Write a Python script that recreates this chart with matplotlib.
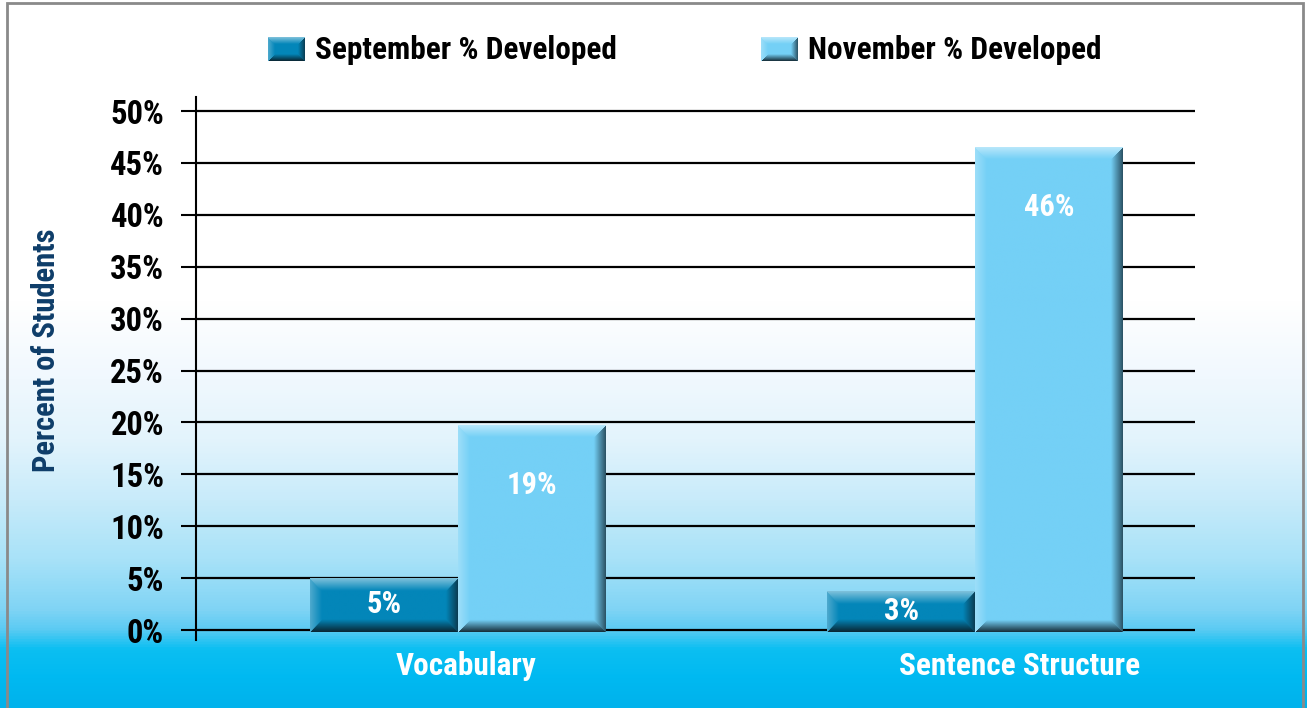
import numpy as np
import matplotlib
matplotlib.use("Agg")
import matplotlib.pyplot as plt
from matplotlib.colors import to_rgb, LinearSegmentedColormap
from matplotlib.patches import Rectangle

categories = ["Vocabulary", "Sentence Structure"]
september = [5.0, 3.7]
november = [19.7, 46.5]
series_names = ["September % Developed", "November % Developed"]
yticks = [0, 5, 10, 15, 20, 25, 30, 35, 40, 45, 50]

FONT = ["Roboto Condensed", "Open Sans Condensed", "DejaVu Sans"]
plt.rcParams["font.family"] = FONT
plt.rcParams["font.weight"] = "bold"

sep_color = "#0386b9"
nov_color = "#74d0f6"


def mix(c1, c2, t):
    return np.array(c1) * (1 - t) + np.array(c2) * t


def bevel_image(color, w, h, e):
    base = np.array(to_rgb(color))
    w, h = max(int(w), 2), max(int(h), 2)
    xs = np.arange(w) + 0.5
    ys = np.arange(h) + 0.5
    X, Y = np.meshgrid(xs, ys)
    d = np.stack([Y, X, w - X, h - Y])  # top, left, right, bottom
    edges = [mix(base, (1, 1, 1), 0.5), mix(base, (1, 1, 1), 0.3),
             mix(base, (0.05, 0.12, 0.16), 0.72), mix(base, (0.04, 0.1, 0.13), 0.9)]
    idx = np.argmin(d, axis=0)
    dmin = np.min(d, axis=0)
    t = np.clip(dmin / e, 0, 1)[..., None]
    img = np.empty((h, w, 3))
    for k in range(4):
        m = idx == k
        img[m] = (edges[k][None, :] * (1 - t[m]) + base[None, :] * t[m])
    return img


W, H = 1307, 708
fig = plt.figure(figsize=(W / 100, H / 100), dpi=100)

# background gradient
bg = fig.add_axes([0, 0, 1, 1], zorder=-5)
bg_cmap = LinearSegmentedColormap.from_list(
    "bg", [(0.0, "#00b2ec"), (0.04, "#00b9f1"), (0.082, "#0cbff2"),
           (0.11, "#5ccbf3"), (0.138, "#80d4f5"), (0.209, "#a8e2f8"),
           (0.294, "#c8ebfa"), (0.379, "#e3f4fc"), (0.463, "#f0f8fe"),
           (0.576, "#ffffff"), (1.0, "#ffffff")])
bg.imshow(np.linspace(0, 1, 512)[:, None], aspect="auto", cmap=bg_cmap,
          origin="lower", extent=[0, 1, 0, 1])
bg.set_xlim(0, 1)
bg.set_ylim(0, 1)
bg.axis("off")
bg.add_patch(Rectangle((7 / W, -2 / H), (W - 11) / W, (H - 1) / H, fill=False,
                       edgecolor="#8a8a8a", lw=2, transform=bg.transAxes))

ax = fig.add_axes([196 / W, 1 - 640 / H, (1195 - 196) / W, (640 - 97) / H])
ax.set_facecolor("none")
ax.set_xlim(-0.507, 1.425)
ax.set_ylim(-0.96, 51.35)

x = np.arange(len(categories))
bw = 0.286
bars_sep = ax.bar(x - bw / 2, september, bw, color=sep_color, zorder=3)
bars_nov = ax.bar(x + bw / 2, november, bw, color=nov_color, zorder=3)

ax.set_yticks(yticks)
ax.set_yticklabels([f"{v}%" for v in yticks], fontsize=23.5, fontweight="bold")
ax.tick_params(axis="y", length=11, width=1.5, direction="out", pad=12)
ax.set_xticks([])
ax.grid(axis="y", color="black", lw=1.6, zorder=1)
ax.set_axisbelow(True)
for s in ["top", "right", "bottom"]:
    ax.spines[s].set_visible(False)
ax.spines["left"].set_linewidth(1.5)

ax.set_ylabel("Percent of Students", fontsize=22, fontweight="bold",
              color="#0e3d69")
ax.yaxis.set_label_coords(-0.135, 0.534)

# bevel overlay for bars
fig.canvas.draw()
for bars, col in [(bars_sep, sep_color), (bars_nov, nov_color)]:
    for b in bars:
        x0, y0 = b.get_x(), b.get_y()
        x1, y1 = x0 + b.get_width(), y0 + b.get_height()
        p0 = ax.transData.transform((x0, y0))
        p1 = ax.transData.transform((x1, y1))
        img = bevel_image(col, p1[0] - p0[0], p1[1] - p0[1], 12)
        ax.imshow(img, extent=[x0, x1, y0 - 0.2, y1], aspect="auto", zorder=4,
                  interpolation="bilinear")
ax.set_xlim(-0.507, 1.425)
ax.set_ylim(-0.96, 51.35)

# value labels
for bars, vals in [(bars_sep, september), (bars_nov, november)]:
    for b, v in zip(bars, vals):
        cx = b.get_x() + b.get_width() / 2
        cy = v - 5.7 if v > 10 else v / 2
        ax.text(cx, cy, f"{int(v)}%", ha="center", va="center", color="white",
                fontsize=22, fontweight="bold", zorder=6)

# category labels
label_shift = [0.015, 0.085]
for i, c in enumerate(categories):
    ax.text(i + label_shift[i], -3.5, c, ha="center", va="center", color="white",
            fontsize=22.5, fontweight="bold", clip_on=False)

# legend
for (sx, tx), name, col in zip([(268, 315), (761, 808)], series_names, [sep_color, nov_color]):
    lax = fig.add_axes([sx / W, 1 - 61 / H, 37 / W, 24 / H])
    lax.imshow(bevel_image(col, 37, 24, 7), aspect="auto", interpolation="bilinear")
    lax.axis("off")
    fig.text(tx / W, 1 - 50 / H, name, ha="left", va="center", fontsize=22.5,
             fontweight="bold", color="black")

fig.savefig("out.png", dpi=100)
